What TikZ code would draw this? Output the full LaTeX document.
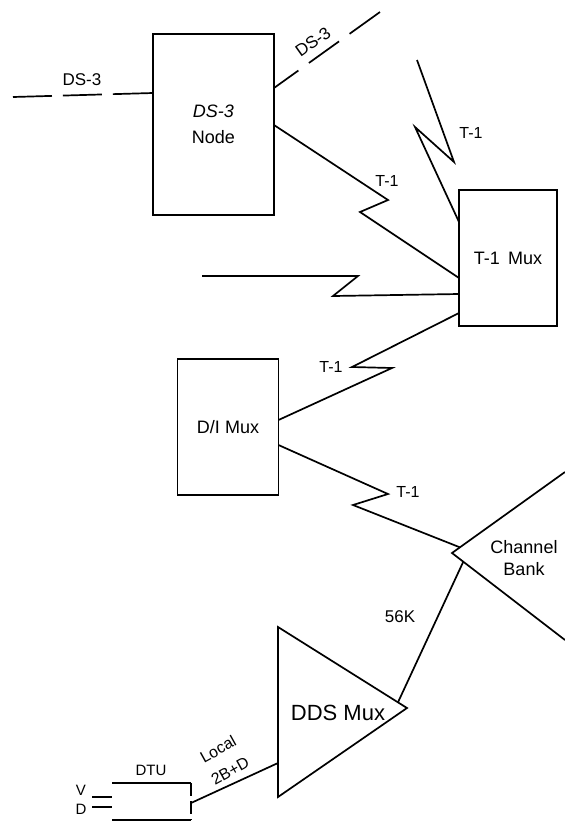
\documentclass[tikz,border=0pt]{standalone}
\usepackage{fontspec}
\setmainfont{Liberation Sans}
\usetikzlibrary{calc}
\begin{document}
\begin{tikzpicture}[x=1pt,y=-1pt,line width=1.7pt,line join=miter,
  box/.style={draw,inner sep=0pt,outer sep=0pt,align=center,font=\fontsize{18}{24}\selectfont},
  lbl/.style={inner sep=0pt,font=\fontsize{16}{19}\selectfont},
  big/.style={inner sep=0pt,font=\fontsize{18}{22}\selectfont,align=center}]
\useasboundingbox (0,0) rectangle (565,823);
% boxes
\node[box,minimum width=121pt,minimum height=181pt] (ds3) at (213.5,124.5) {\textit{DS-3}\\[2pt]Node};
\node[box,minimum width=98pt,minimum height=136pt] (t1mux) at (508,258) {T-1\hspace{0.45em}Mux};
\node[box,minimum width=101pt,minimum height=136pt] (dimux) at (228,427) {D/I\hspace{0.3em}Mux};
\node[inner sep=0pt,outer sep=0pt,minimum width=79pt,minimum height=37pt] (dtu) at (151.5,801.5) {};
% DDS Mux triangle
\coordinate (ddsA) at (278,627);
\coordinate (ddsB) at (278,797);
\coordinate (ddsC) at (407,708);
\draw (ddsA) -- (ddsC) -- (ddsB) -- cycle;
\node[big,font=\fontsize{22}{26}\selectfont] (ddslbl) at (338,713) {DDS Mux};
% Channel bank
\coordinate (cbapex) at (452,553);
\coordinate (cbtop) at (565,472);
\coordinate (cbbot) at (565,640);
\draw (cbtop) -- (cbapex) -- (cbbot);
\node[big] (cblbl) at (524,558) {Channel\\Bank};
\coordinate (cbin) at ($(cbapex)!0.07!(cbtop)$);
\coordinate (cbout) at ($(cbapex)!0.1!(cbbot)$);
\coordinate (ddsout) at ($(ddsA)!0.93!(ddsC)$);
% DTU
\draw (dtu.north west) -- (dtu.north east);
\draw (dtu.south west) -- (dtu.south east);
\draw[dash pattern=on 13pt off 5pt] (dtu.north east) -- (dtu.south east);
\node[lbl,font=\fontsize{15}{18}\selectfont] (dtulbl) at (151,770) {DTU};
\coordinate (vin) at (92,797);
\coordinate (din) at (92,807);
\draw (vin) -- (dtu.west |- 0,797);
\draw (din) -- (dtu.west |- 0,807);
\node[lbl,font=\fontsize{15}{17}\selectfont] (vlbl) at (81,790) {V};
\node[lbl,font=\fontsize{15}{17}\selectfont] (dlbl) at (81,809) {D};
% DS-3 lines
\coordinate (dsin) at (13,97);
\coordinate (dsout) at (380,12);
\draw[dash pattern=on 39pt off 11pt] (dsin) -- (ds3.west |- 0,93);
\node[lbl,font=\fontsize{17}{20}\selectfont] (ds3a) at (82,80) {DS-3};
\draw[dash pattern=on 30pt off 13pt on 37pt off 13pt on 60pt off 0pt] (ds3.east |- 0,88) -- (dsout);
\node[lbl,font=\fontsize{17}{20}\selectfont,rotate=35.4] (ds3b) at (313,42) {DS-3};
% T-1 from DS-3 node to T-1 Mux
\draw (ds3.east |- 0,125) -- (388,200) -- (360,212) -- (t1mux.west |- 0,278);
\node[lbl] (t1a) at (387,181) {T-1};
% upper T-1 into T-1 Mux
\coordinate (t1in) at (417,60);
\draw (t1in) -- (454,162) -- (415,127) -- (t1mux.west |- 0,222);
\node[lbl] (t1b) at (471,133) {T-1};
% horizontal zigzag into T-1 Mux
\coordinate (hin) at (202,276);
\draw (hin) -- (358,276) -- (333,296) -- (t1mux.west |- 0,294);
% T-1 Mux to D/I Mux
\draw (t1mux.west |- 0,313) -- (352,367) -- (392,368) -- (dimux.east |- 0,420);
\node[lbl] (t1c) at (331,367) {T-1};
% D/I Mux to Channel Bank
\draw (dimux.east |- 0,445) -- (388,494) -- (353,505) -- (cbin);
\node[lbl] (t1d) at (408,492) {T-1};
% 56K
\draw (cbout) -- (ddsout);
\node[lbl,font=\fontsize{17}{20}\selectfont] (k56) at (400,617) {56K};
% Local 2B+D
\draw (dtu.east |- 0,803) -- (ddsA |- 0,763);
\node[lbl,rotate=29,align=center,font=\fontsize{16}{25}\selectfont] (loc) at (224,760) {Local\\2B+D};
\end{tikzpicture}
\end{document}
